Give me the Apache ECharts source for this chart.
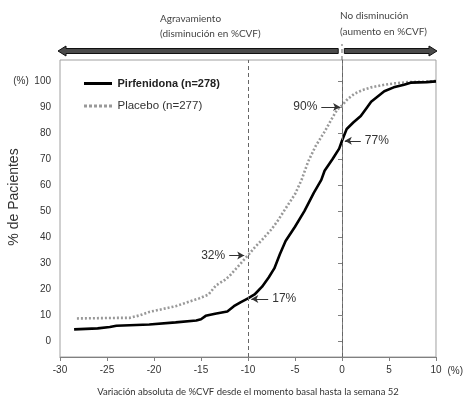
<!DOCTYPE html>
<html><head><meta charset="utf-8">
<script src="https://cdn.jsdelivr.net/npm/echarts@6/dist/echarts.min.js"></script>
<style>html,body{margin:0;padding:0;background:#fff}#c{width:466px;height:401px}</style>
</head><body><div id="c"></div>
<script>
// ---- data ----
const xTicks = [-30, -25, -20, -15, -10, -5, 0, 5, 10];
const yTicks = [0, 10, 20, 30, 40, 50, 60, 70, 80, 90, 100];
const seriesNames = ['Pirfenidona (n=278)', 'Placebo (n=277)'];
const pirfenidona = [[-28.5,4.6],[-26,5.0],[-24.7,5.5],[-24,6.0],[-20.5,6.5],[-17.7,7.3],[-15.5,8.0],[-15.0,8.5],[-14.5,9.8],[-13.5,10.6],[-12.2,11.5],[-11.5,13.5],[-10.8,15.0],[-10,16.5],[-9.3,18.0],[-8.5,21.0],[-7.8,24.5],[-7.2,28],[-6.6,33.5],[-6.0,38.5],[-5.0,44],[-4.0,50],[-3.0,57],[-2.2,62],[-1.85,65.5],[-1.0,70],[-0.3,74],[0,77],[0.5,81.5],[1.2,84],[2.0,86.5],[2.7,90],[3.1,92],[4.5,96],[5.5,97.5],[6.6,98.5],[7.3,99.3],[9,99.5],[10,99.8]];
const placebo = [[-28.2,8.8],[-24,9.0],[-22.6,9.0],[-21.5,10],[-20.5,11.3],[-17.7,13.5],[-15.2,16.5],[-14.2,18],[-13.4,21.5],[-12.5,23.5],[-12,25],[-11,29],[-10,33],[-9.3,36],[-8.5,39],[-7.5,43],[-6.8,46.5],[-6,51],[-5,56.5],[-4.3,62],[-3.6,69],[-2.8,75],[-1.85,80.5],[-1,86],[-0.5,89],[0,90.5],[0.6,93],[1.3,95],[2.2,96.5],[3.1,97.5],[4.5,98.5],[5.5,99],[7,99.5],[9,99.7],[10,100]];
const refLines = [-10, 0];
const annotations = [
  { text: '90%', from: [-2.2, 90], to: [-0.2, 90] },
  { text: '77%', from: [2.0, 77], to: [0.3, 77] },
  { text: '32%', from: [-12.0, 33], to: [-10.4, 33] },
  { text: '17%', from: [-7.85, 16.3], to: [-9.65, 16.3] }
];
const xAxisTitle = 'Variación absoluta de %CVF desde el momento basal hasta la semana 52';
const yAxisTitle = '% de Pacientes';
const leftBanner = ['Agravamiento', '(disminución en %CVF)'];
const rightBanner = ['No disminución', '(aumento en %CVF)'];

const chart = echarts.init(document.getElementById('c'), null, { renderer: 'canvas' });
const axisColor = '#808080';
const labelFont = 'Liberation Sans, Arial, sans-serif';
const calibriLike = 'Lato, Open Sans, sans-serif';

// legend icons: solid bar and dotted bar
const solidIcon = 'path://M0,0h28v3h-28z';
let dots = '';
for (let i = 0; i < 6; i++) dots += 'M' + (i * 5) + ',0h3v3h-3z';
const dottedIcon = 'path://' + dots;

chart.setOption({
  animation: false,
  backgroundColor: '#fff',
  grid: { left: 60, right: 27, top: 60, bottom: 44, show: true, borderColor: '#a0a0a0', borderWidth: 1 },
  xAxis: {
    type: 'value', min: -30, max: 10, interval: 5,
    axisLine: { onZero: false, lineStyle: { color: axisColor } },
    axisTick: { length: 4, lineStyle: { color: axisColor } },
    axisLabel: { margin: 8, fontSize: 10, color: '#333', fontFamily: labelFont },
    splitLine: { show: false },
    name: '(%)', nameLocation: 'end', nameGap: 9,
    nameTextStyle: { fontSize: 10, color: '#333', fontFamily: labelFont, verticalAlign: 'top', padding: [9, 0, 0, 0] }
  },
  yAxis: {
    type: 'value', min: -6, max: 108,
    axisLine: { show: true, lineStyle: { color: axisColor } },
    axisTick: { show: true, length: 4, customValues: yTicks, lineStyle: { color: axisColor } },
    axisLabel: { margin: 9, fontSize: 10, color: '#333', fontFamily: labelFont, customValues: yTicks,
      formatter: v => v === 100 ? '(%)  100' : String(v) },
    splitLine: { show: false }
  },
  legend: {
    orient: 'vertical', left: 79, top: 73, itemWidth: 29, itemHeight: 3, itemGap: 11,
    data: [
      { name: seriesNames[0], icon: solidIcon, itemStyle: { color: '#000' } },
      { name: seriesNames[1], icon: dottedIcon, itemStyle: { color: '#999' } }
    ],
    formatter: n => n === seriesNames[0] ? '{b|' + n + '}' : '{n|' + n + '}',
    textStyle: {
      color: '#222', fontFamily: labelFont,
      rich: { b: { fontWeight: 'bold', fontSize: 11, fontFamily: labelFont, color: '#222' },
              n: { fontSize: 11.5, fontFamily: labelFont, color: '#333' } }
    }
  },
  series: [
    {
      name: seriesNames[0], type: 'line', data: pirfenidona, symbol: 'none', z: 4,
      lineStyle: { color: '#000', width: 2.6 }, itemStyle: { color: '#000' },
      markLine: {
        silent: true, symbol: ['none', 'none'],
        lineStyle: { color: '#666', type: [4, 3], width: 1 },
        label: { show: false },
        data: refLines.map(v => ({ xAxis: v }))
      }
    },
    {
      name: seriesNames[1], type: 'line', data: placebo, symbol: 'none', z: 3,
      lineStyle: { color: '#999', width: 2.6, type: [2, 2] }, itemStyle: { color: '#999' },
      markLine: {
        silent: true, symbol: ['none', 'arrow'], symbolSize: [6, 7],
        lineStyle: { color: '#333', width: 1, type: 'solid' },
        label: { show: true, position: 'start', distance: 4, fontSize: 12, color: '#333', fontFamily: labelFont },
        data: annotations.map(a => [
          { coord: a.from, label: { formatter: a.text } },
          { coord: a.to }
        ])
      }
    }
  ]
});

// ---- decorations placed from axis scale ----
const px = v => chart.convertToPixel({ gridIndex: 0 }, [v, 0])[0];
const topY = chart.convertToPixel({ gridIndex: 0 }, [0, 108])[1];
const ay = topY - 9;
function arrowPts(x0, x1, dir) {
  const h = 8, bh = 2.5, hh = 5;
  if (dir < 0) return [[x0, ay], [x0 + h, ay - hh], [x0 + h, ay - bh], [x1, ay - bh], [x1, ay + bh], [x0 + h, ay + bh], [x0 + h, ay + hh]];
  return [[x1, ay], [x1 - h, ay - hh], [x1 - h, ay - bh], [x0, ay - bh], [x0, ay + bh], [x1 - h, ay + bh], [x1 - h, ay + hh]];
}
const x0px = px(0);
const textStyleTop = { fontSize: 10, fill: '#444', fontFamily: calibriLike };
chart.setOption({
  graphic: [
    { type: 'polygon', shape: { points: arrowPts(px(-30) - 2, px(-0.4), -1) }, style: { fill: '#4a4a4a', stroke: '#111', lineWidth: 1 } },
    { type: 'polygon', shape: { points: arrowPts(px(0.25), px(10) + 1, 1) }, style: { fill: '#4a4a4a', stroke: '#111', lineWidth: 1 } },
    { type: 'line', shape: { x1: x0px, y1: topY, x2: x0px, y2: topY - 16 }, style: { stroke: '#666', lineDash: [4, 3], lineWidth: 1 } },
    { type: 'text', x: 160, y: 14, style: Object.assign({ text: leftBanner[0] }, textStyleTop) },
    { type: 'text', x: 160, y: 29, style: Object.assign({ text: leftBanner[1] }, textStyleTop) },
    { type: 'text', x: 340, y: 11, style: Object.assign({ text: rightBanner[0] }, textStyleTop) },
    { type: 'text', x: 340, y: 27, style: Object.assign({ text: rightBanner[1] }, textStyleTop) },
    { type: 'text', x: 14, y: 197, rotation: Math.PI / 2, style: { text: yAxisTitle, fontSize: 14, fill: '#333', fontFamily: labelFont, align: 'center', verticalAlign: 'middle' } },
    { type: 'text', x: 248, y: 392, style: { text: xAxisTitle, fontSize: 9.5, fill: '#333', fontFamily: calibriLike, align: 'center', verticalAlign: 'middle' } }
  ]
});
</script>
</body></html>
